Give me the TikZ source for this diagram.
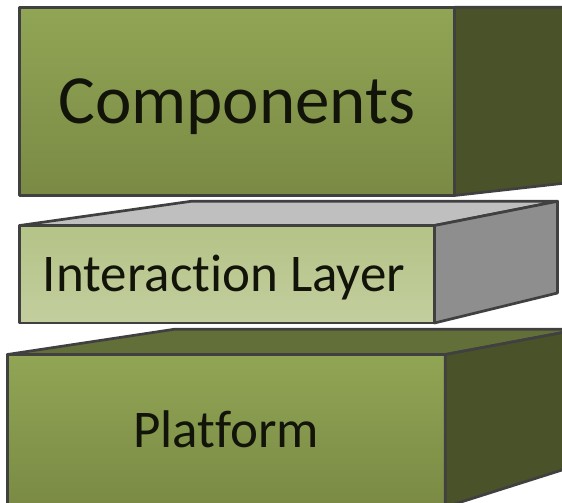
\documentclass[tikz,border=0pt]{standalone}
\usepackage{fontspec}
\setmainfont{Carlito}[Ligatures=NoCommon]
\definecolor{edgegrey}{RGB}{64,64,64}
\definecolor{olivetop}{RGB}{145,165,85}
\definecolor{olivebot}{RGB}{122,138,68}
\definecolor{oliveside}{RGB}{74,82,41}
\definecolor{olivelid}{RGB}{99,111,56}
\definecolor{palltop}{RGB}{180,195,135}
\definecolor{pallbot}{RGB}{195,206,158}
\definecolor{greylid}{RGB}{191,191,191}
\definecolor{greyside}{RGB}{142,142,142}
\definecolor{ink}{RGB}{18,20,10}
\begin{document}
\begin{tikzpicture}[x=1pt,y=-1pt,
  face/.style={draw=edgegrey, line width=2.7pt, line join=round},
  front/.style={face, rectangle, inner sep=0pt, outer sep=0pt, text=ink, text depth=0pt},
  bigtext/.style={font=\fontsize{69}{69}\selectfont, text height=44.4pt},
  smalltext/.style={font=\fontsize{53}{53}\selectfont, text height=34.1pt}]
\useasboundingbox (0,0) rectangle (562,503);
\clip (0,0) rectangle (562,503);

% Components block
\node[front, bigtext, minimum width=435.2pt, minimum height=188.2pt,
      top color=olivetop, bottom color=olivebot] (comp) at (236.9,101.4) {Components};
\coordinate (cbt) at (600,7.3);
\coordinate (cbb) at (600,179.2);
\filldraw[face, fill=oliveside] (comp.north east) -- (cbt) -- (cbb) -- (comp.south east) -- cycle;

% Interaction layer slab
\node[front, smalltext, minimum width=415pt, minimum height=97.5pt,
      top color=palltop, bottom color=pallbot] (inter) at (227,274.25) {\hspace*{-6pt}Interaction Layer};
\coordinate (ibl) at (191,201.3);
\coordinate (ibr) at (557.5,201.3);
\coordinate (ibb) at (557.5,293);
\filldraw[face, fill=greylid] (inter.north west) -- (ibl) -- (ibr) -- (inter.north east) -- cycle;
\filldraw[face, fill=greyside] (inter.north east) -- (ibr) -- (ibb) -- (inter.south east) -- cycle;

% Platform block
\node[front, smalltext, minimum width=438pt, minimum height=152.5pt,
      top color=olivetop, bottom color=olivebot] (plat) at (226.3,430.75) {Platform};
\coordinate (pbl) at (174,329.3);
\coordinate (pbr) at (580,329.3);
\coordinate (pbb) at (580,464.3);
\filldraw[face, fill=olivelid] (plat.north west) -- (pbl) -- (pbr) -- (plat.north east) -- cycle;
\filldraw[face, fill=oliveside] (plat.north east) -- (pbr) -- (pbb) -- (plat.south east) -- cycle;
\end{tikzpicture}
\end{document}
